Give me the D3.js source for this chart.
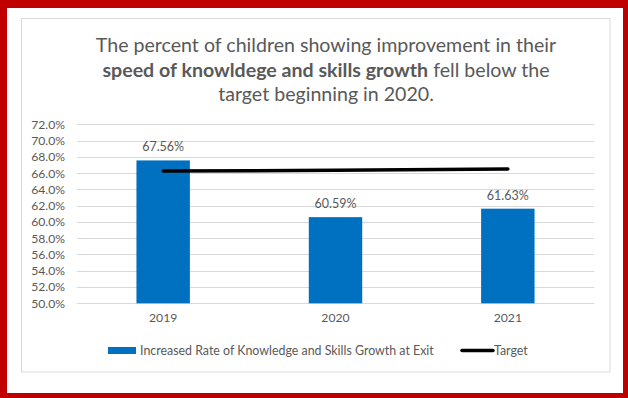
<!DOCTYPE html>
<html>
<head>
<meta charset="utf-8">
<script src="https://cdn.jsdelivr.net/npm/d3@7"></script>
<style>
  html, body { margin: 0; padding: 0; background: #fff; }
  svg { display: block; }
  text { font-family: Lato, "Liberation Sans", sans-serif; }
</style>
</head>
<body>
<svg id="chart" width="628" height="398"></svg>
<script>
// Chart data
const years = ["2019", "2020", "2021"];
const rateValues = [67.56, 60.59, 61.63];
const targetValues = [66.25, 66.35, 66.5];
const yTicks = [50, 52, 54, 56, 58, 60, 62, 64, 66, 68, 70, 72];
const seriesNames = ["Increased Rate of Knowledge and Skills Growth at Exit", "Target"];

const W = 628, H = 398;
const svg = d3.select("#chart");
const grey = "#595959";
const font = "Lato, 'Liberation Sans', sans-serif";

// Red outer frame
svg.append("rect").attr("x", 0).attr("y", 0).attr("width", W).attr("height", H).attr("fill", "#c00000");
svg.append("rect").attr("x", 7).attr("y", 8).attr("width", 616).attr("height", 385).attr("fill", "#fff");

// Chart area border
svg.append("rect").attr("x", 21.5).attr("y", 18.5).attr("width", 588.5).attr("height", 353.5)
  .attr("fill", "#fff").attr("stroke", "#d9d9d9").attr("stroke-width", 1);

// Title
const title = svg.append("text").attr("text-anchor", "middle").attr("fill", grey)
  .style("font-size", "19.6px");
title.append("tspan").attr("x", 326).attr("y", 52)
  .text("The percent of children showing improvement in their");
const l2 = title.append("tspan").attr("x", 326).attr("y", 77);
l2.append("tspan").attr("font-weight", "bold").text("speed of knowldege and skills growth");
l2.append("tspan").text(" fell below the");
title.append("tspan").attr("x", 326).attr("y", 101).text("target beginning in 2020.");

// Scales
const plot = { left: 77, right: 594, top: 124.3, bottom: 303.3 };
const x = d3.scaleBand().domain(years).range([plot.left, plot.right])
  .paddingInner(0.69).paddingOuter(0.345);
const y = d3.scaleLinear().domain([50, 72]).range([plot.bottom, plot.top]);

// Gridlines
svg.append("g").selectAll("line").data(yTicks).join("line")
  .attr("x1", plot.left).attr("x2", plot.right)
  .attr("y1", d => Math.round(y(d)) + 0.5).attr("y2", d => Math.round(y(d)) + 0.5)
  .attr("stroke", "#d9d9d9").attr("stroke-width", 1);

// Y axis labels
const yAxis = svg.append("g").attr("transform", `translate(${plot.left - 12},0)`)
  .call(d3.axisLeft(y).tickValues(yTicks).tickSize(0).tickPadding(0)
    .tickFormat(d => d3.format(".1f")(d) + "%"));
yAxis.select(".domain").remove();
yAxis.selectAll("text").attr("fill", grey).style("font-size", "12.2px").style("font-family", font);

// X axis labels
const xAxis = svg.append("g").attr("transform", `translate(0,${plot.bottom + 10})`)
  .call(d3.axisBottom(x).tickSize(0).tickPadding(0));
xAxis.select(".domain").remove();
xAxis.selectAll("text").attr("fill", grey).style("font-size", "12.2px").style("font-family", font);

// Bars
svg.append("g").selectAll("rect").data(years).join("rect")
  .attr("x", d => x(d)).attr("width", x.bandwidth())
  .attr("y", (d, i) => y(rateValues[i]))
  .attr("height", (d, i) => y(50) - y(rateValues[i]))
  .attr("fill", "#0070c0");

// Value labels
svg.append("g").selectAll("text").data(years).join("text")
  .attr("x", d => x(d) + x.bandwidth() / 2)
  .attr("y", (d, i) => y(rateValues[i]) - 9)
  .attr("text-anchor", "middle").attr("fill", grey).style("font-size", "12.5px")
  .text((d, i) => d3.format(".2f")(rateValues[i]) + "%");

// Target line
const line = d3.line().x((d, i) => x(years[i]) + x.bandwidth() / 2).y(d => y(d));
svg.append("path").datum(targetValues).attr("d", line)
  .attr("fill", "none").attr("stroke", "#000").attr("stroke-width", 3.5)
  .attr("stroke-linecap", "round");

// Legend
const leg = svg.append("g");
leg.append("rect").attr("x", 108).attr("y", 347).attr("width", 28).attr("height", 7).attr("fill", "#0070c0");
leg.append("text").attr("x", 140).attr("y", 355).attr("fill", grey).style("font-size", "12.4px").text(seriesNames[0]);
leg.append("line").attr("x1", 462).attr("x2", 493).attr("y1", 350.5).attr("y2", 350.5)
  .attr("stroke", "#000").attr("stroke-width", 3.5).attr("stroke-linecap", "round");
leg.append("text").attr("x", 494).attr("y", 355).attr("fill", grey).style("font-size", "12.4px").text(seriesNames[1]);
</script>
</body>
</html>
